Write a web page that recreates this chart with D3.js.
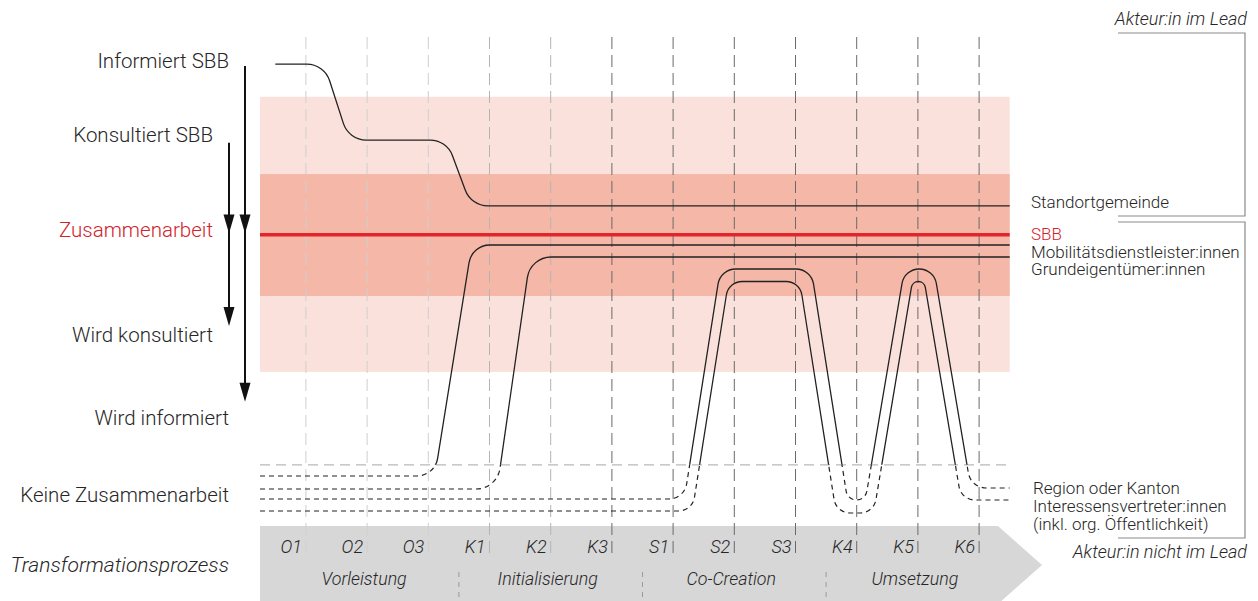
<!DOCTYPE html>
<html><head><meta charset="utf-8">
<script src="https://cdn.jsdelivr.net/npm/d3@7"></script>
<style>
body{margin:0;background:#fff}
svg{display:block}
text{font-family:Roboto,"Liberation Sans",Arial,sans-serif;font-weight:300;fill:#262626}
</style>
</head><body><svg id="chart" width="1258" height="601"></svg>
<script>
// ---------- DATA ----------
const stages = ["O1","O2","O3","K1","K2","K3","S1","S2","S3","K4","K5","K6"];
const phases = ["Vorleistung","Initialisierung","Co-Creation","Umsetzung"];
const levelLabels = ["Informiert SBB","Konsultiert SBB","Zusammenarbeit","Wird konsultiert","Wird informiert","Keine Zusammenarbeit"];
const levelValues = [100, 83.8, 63.2, 40.3, 22.3, 5.5];
const bandOuter = [32.2, 92];
const bandInner = [48.7, 75.2];
const thresholdLevel = 12;
const spanX = [-0.75, 11.5];
const sbbX = [-0.75, 11.5];
const sbbY = [62, 62];
const standortX = [-0.5, 0.3, 0.7, 2.3, 2.7, 11.5];
const standortY = [99.1, 99.1, 82.6, 82.6, 68.3, 68.3];
const mobilX = [-0.75, 2.106, 2.712, 11.5];
const mobilY = [9.57, 9.57, 59.78, 59.78];
const grundX = [-0.75, 3.123, 3.667, 11.5];
const grundY = [6.74, 6.74, 57.17, 57.17];
const regionX = [-0.75, 6.183, 6.773, 8.256, 8.850, 9.142, 9.781, 10.261, 10.866, 11.5];
const regionY = [4.57, 4.57, 54.57, 54.57, 4.35, 4.35, 54.57, 54.57, 6.96, 6.96];
const interX = [-0.75, 6.314, 6.905, 8.070, 8.665, 9.278, 9.910, 10.105, 10.709, 11.5];
const interY = [1.96, 1.96, 51.85, 51.85, 1.52, 1.52, 51.85, 51.85, 4.35, 4.35];
const longArrow = [98.7, 25.7];
const shortArrow = [82.0, 42.2];
const midArrowLevel = 62.3;
const leadTitle = "Akteur:in im Lead";
const notLeadTitle = "Akteur:in nicht im Lead";
const leadLabels = ["Standortgemeinde"];
const rightTopLabels = ["SBB","Mobilitätsdienstleister:innen","Grundeigentümer:innen"];
const rightBottomLabels = ["Region oder Kanton","Interessensvertreter:innen","(inkl. org. Öffentlichkeit)"];
const processLabel = "Transformationsprozess";

// ---------- SCALES ----------
const svg = d3.select("#chart");
const x = d3.scaleLinear().domain([0, 11]).range([305.9, 979.1]);
const y = d3.scaleLinear().domain([0, 100]).range([520, 60]);
const LINE = "#222";

function roundedPath(pts, r) {
  const p = d3.path();
  p.moveTo(pts[0][0], pts[0][1]);
  for (let i = 1; i < pts.length - 1; i++) {
    const [x0, y0] = pts[i-1], [x1, y1] = pts[i], [x2, y2] = pts[i+1];
    const l1 = Math.hypot(x1-x0, y1-y0), l2 = Math.hypot(x2-x1, y2-y1);
    const ux = (x0-x1)/l1, uy = (y0-y1)/l1, vx = (x2-x1)/l2, vy = (y2-y1)/l2;
    const ang = Math.acos(Math.max(-1, Math.min(1, ux*vx + uy*vy)));
    const tanHalf = Math.tan(ang/2);
    const maxT = Math.min(i === 1 ? l1 : l1/2, i === pts.length-2 ? l2 : l2/2);
    const rr = Math.min(r, maxT * tanHalf);
    p.arcTo(x1, y1, x2, y2, rr);
  }
  p.lineTo(pts[pts.length-1][0], pts[pts.length-1][1]);
  return p.toString();
}
const toPts = (xs, ys) => xs.map((v, i) => [x(v), y(ys[i])]);

// clip paths
const defs = svg.append("defs");
defs.append("clipPath").attr("id", "above").append("rect")
  .attr("x", 0).attr("y", 0).attr("width", 1258).attr("height", y(thresholdLevel));
defs.append("clipPath").attr("id", "below").append("rect")
  .attr("x", 0).attr("y", y(thresholdLevel)).attr("width", 1258).attr("height", 601 - y(thresholdLevel));

// bands
svg.append("rect").attr("x", x(spanX[0])).attr("width", x(spanX[1]) - x(spanX[0]))
  .attr("y", y(bandOuter[1])).attr("height", y(bandOuter[0]) - y(bandOuter[1])).attr("fill", "#fbe1db");
svg.append("rect").attr("x", x(spanX[0])).attr("width", x(spanX[1]) - x(spanX[0]))
  .attr("y", y(bandInner[1])).attr("height", y(bandInner[0]) - y(bandInner[1])).attr("fill", "#f5b7a8");

// bottom process arrow
const aTop = 526, aBot = 604, aMid = (aTop + aBot) / 2, bodyEnd = 998, tipX = 1042;
svg.append("path")
  .attr("d", `M${x(spanX[0])},${aTop}L${bodyEnd},${aTop}L${tipX},${aMid}L${bodyEnd},${aBot}L${x(spanX[0])},${aBot}Z`)
  .attr("fill", "#d7d7d7");

// threshold dashed line
svg.append("line").attr("x1", x(spanX[0])).attr("x2", x(spanX[1]))
  .attr("y1", y(thresholdLevel)).attr("y2", y(thresholdLevel))
  .attr("stroke", "#b9b9b9").attr("stroke-width", 1.2).attr("stroke-dasharray", "10,6");

// vertical stage grid lines
svg.append("g").selectAll("line").data(stages).join("line")
  .attr("x1", (d, i) => x(i)).attr("x2", (d, i) => x(i))
  .attr("y1", 37).attr("y2", 553)
  .attr("stroke", (d, i) => i < 3 ? "#cfcfcf" : i < 5 ? "#b4b4b4" : "#6a6a6a")
  .attr("stroke-width", 1).attr("stroke-dasharray", "12,6");

// phase separators
svg.append("g").selectAll("line").data(phases.slice(1)).join("line")
  .attr("x1", (d, i) => x(3*i + 2.5)).attr("x2", (d, i) => x(3*i + 2.5))
  .attr("y1", 572).attr("y2", 601)
  .attr("stroke", "#9a9a9a").attr("stroke-width", 1).attr("stroke-dasharray", "5,5");

// stage labels
svg.append("g").selectAll("text").data(stages).join("text")
  .attr("x", (d, i) => x(i) - 4).attr("y", 553)
  .attr("text-anchor", "end").attr("font-style", "italic").attr("font-size", 18)
  .text(d => d);
// phase labels
svg.append("g").selectAll("text").data(phases).join("text")
  .attr("x", (d, i) => x(3*i + 1) - 3).attr("y", 585)
  .attr("text-anchor", "middle").attr("font-style", "italic").attr("font-size", 17.8)
  .text(d => d);

// actor lines (solid above threshold, dashed below)
const actors = [
  {xs: standortX, ys: standortY, r: 24},
  {xs: mobilX, ys: mobilY, r: 21},
  {xs: grundX, ys: grundY, r: 24},
  {xs: regionX, ys: regionY, r: 18},
  {xs: interX, ys: interY, r: 16}
];
const gA = svg.append("g");
actors.forEach(a => {
  const d = roundedPath(toPts(a.xs, a.ys), a.r);
  gA.append("path").attr("d", d).attr("fill", "none").attr("stroke", LINE)
    .attr("stroke-width", 1.3).attr("clip-path", "url(#above)");
  gA.append("path").attr("d", d).attr("fill", "none").attr("stroke", LINE)
    .attr("stroke-width", 1.2).attr("stroke-dasharray", "5,4").attr("clip-path", "url(#below)");
});

// SBB red line
svg.append("line").attr("x1", x(sbbX[0])).attr("x2", x(sbbX[1]))
  .attr("y1", y(sbbY[0])).attr("y2", y(sbbY[1]))
  .attr("stroke", "#e3252b").attr("stroke-width", 3.4);

// left level labels
const rightEdges = [229, 213, 213, 213, 229, 229];
svg.append("g").selectAll("text").data(levelLabels).join("text")
  .attr("x", (d, i) => rightEdges[i]).attr("y", (d, i) => y(levelValues[i]) + 7.5)
  .attr("text-anchor", "end").attr("font-size", 20.5)
  .style("fill", (d, i) => i === 2 ? "#d1232b" : null)
  .text(d => d);
svg.append("text").attr("x", 229).attr("y", 572).attr("text-anchor", "end")
  .attr("font-size", 21).attr("font-style", "italic").text(processLabel);

// left arrows
function arrowHead(g, ax, tipY) {
  g.append("path").attr("d", `M${ax},${tipY}L${ax-5.5},${tipY-19}L${ax+5.5},${tipY-19}Z`).attr("fill", "#111");
}
const gArr = svg.append("g");
[[245, longArrow], [229, shortArrow]].forEach(([ax, lv]) => {
  gArr.append("line").attr("x1", ax).attr("x2", ax).attr("y1", y(lv[0])).attr("y2", y(lv[1]) - 10)
    .attr("stroke", "#111").attr("stroke-width", 2);
  arrowHead(gArr, ax, y(lv[1]));
  arrowHead(gArr, ax, y(midArrowLevel));
});

// right labels
svg.append("text").attr("x", 1247).attr("y", 25).attr("text-anchor", "end")
  .attr("font-style", "italic").attr("font-size", 18).text(leadTitle);
svg.append("text").attr("x", 1247).attr("y", 558).attr("text-anchor", "end")
  .attr("font-style", "italic").attr("font-size", 18).text(notLeadTitle);
svg.append("g").selectAll("text").data(leadLabels).join("text")
  .attr("x", 1031).attr("y", 208).attr("font-size", 17).text(d => d);
svg.append("g").selectAll("text").data(rightTopLabels).join("text")
  .attr("x", 1031).attr("y", (d, i) => 240 + i * 17.5).attr("font-size", 17)
  .style("fill", (d, i) => i === 0 ? "#d1232b" : null).text(d => d);
svg.append("g").selectAll("text").data(rightBottomLabels).join("text")
  .attr("x", 1033).attr("y", (d, i) => 494 + i * 18).attr("font-size", 17).text(d => d);

// brackets
const br = svg.append("g").attr("fill", "none").attr("stroke", "#8a8a8a").attr("stroke-width", 1.2);
br.append("path").attr("d", "M1118,33H1245V216H1118");
br.append("path").attr("d", "M1118,222H1245V538H1118");
</script>
</body></html>
